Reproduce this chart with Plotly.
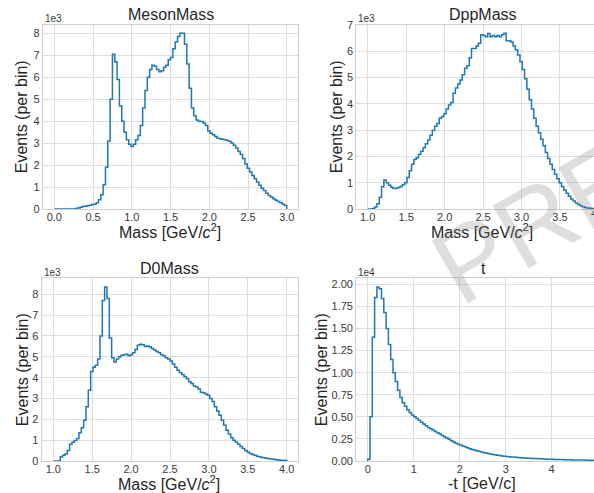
import numpy as np
import plotly.graph_objects as go

# ---------------- data (counts in units of the axis multiplier) ----------------
meson_lo, meson_hi, meson_nbins = 0.0, 3.0, 100
meson_counts_1e3 = [
    0, 0, 0, 0, 0, 0, 0, 0, 0, 0.02,
    0.05, 0.08, 0.11, 0.13, 0.15, 0.17, 0.20, 0.22, 0.28, 0.42,
    0.65, 1.1, 1.9, 3.1, 5.0, 7.05, 6.7, 5.9, 4.7, 4.0,
    3.5, 3.15, 2.95, 2.85, 2.95, 3.15, 3.35, 3.8, 4.6, 5.4,
    6.0, 6.35, 6.55, 6.5, 6.35, 6.25, 6.3, 6.45, 6.55, 6.8,
    6.9, 7.3, 7.6, 7.85, 8.0, 8.0, 7.5, 6.6, 5.5, 4.6,
    4.25, 4.05, 4.0, 3.98, 3.92, 3.8, 3.55, 3.45, 3.38, 3.3,
    3.22, 3.2, 3.18, 3.15, 3.12, 3.08, 3.0, 2.9, 2.78, 2.62,
    2.48, 2.3, 2.05, 1.85, 1.68, 1.52, 1.38, 1.23, 1.08, 0.95,
    0.84, 0.72, 0.62, 0.55, 0.47, 0.40, 0.34, 0.28, 0.22, 0.16,
]

dpp_lo, dpp_hi, dpp_nbins = 1.0, 4.0, 100
dpp_counts_1e3 = [
    0, 0, 0.02, 0.08, 0.2, 0.45, 0.85, 1.1, 1.0, 0.9,
    0.83, 0.78, 0.79, 0.82, 0.86, 0.92, 1.0, 1.2, 1.45, 1.7,
    1.88, 1.95, 2.08, 2.2, 2.33, 2.48, 2.62, 2.8, 2.98, 3.15,
    3.25, 3.45, 3.52, 3.62, 3.8, 3.95, 4.05, 4.4, 4.6, 4.75,
    4.9, 5.1, 5.35, 5.45, 5.75, 6.1, 6.1, 6.2, 6.3, 6.62,
    6.6, 6.55, 6.67, 6.55, 6.6, 6.55, 6.6, 6.55, 6.62, 6.68,
    6.4, 6.4, 6.35, 6.2, 6.05, 5.85, 5.6, 5.3, 4.95, 4.55,
    4.15, 3.8, 3.45, 3.15, 2.9, 2.65, 2.4, 2.15, 1.92, 1.7,
    1.5, 1.32, 1.15, 1.0, 0.86, 0.72, 0.6, 0.48, 0.38, 0.3,
    0.23, 0.17, 0.12, 0.09, 0.06, 0.04, 0.03, 0.02, 0.01, 0.005,
]

d0_lo, d0_hi, d0_nbins = 1.0, 4.0, 100
d0_counts_1e3 = [
    0, 0, 0, 0.2, 0.28, 0.33, 0.5, 0.8, 0.9, 0.98,
    1.08, 1.35, 1.6, 1.95, 2.6, 3.4, 4.3, 4.5, 4.6, 4.9,
    6.0, 7.7, 8.35, 7.8, 5.9, 4.95, 4.75, 4.9, 5.0, 5.08,
    5.1, 5.12, 5.05, 5.1, 5.2, 5.35, 5.55, 5.6, 5.58, 5.5,
    5.52, 5.48, 5.4, 5.33, 5.25, 5.2, 5.1, 5.05, 4.95, 4.9,
    4.8, 4.65, 4.5, 4.35, 4.25, 4.15, 4.05, 3.95, 3.8, 3.72,
    3.6, 3.55, 3.45, 3.3, 3.28, 3.22, 3.15, 3.0, 2.85, 2.6,
    2.4, 2.2, 1.95, 1.72, 1.48, 1.3, 1.12, 1.0, 0.9, 0.8,
    0.7, 0.6, 0.5, 0.43, 0.36, 0.31, 0.27, 0.23, 0.2, 0.17,
    0.15, 0.13, 0.11, 0.09, 0.08, 0.06, 0.05, 0.04, 0.03, 0.02,
]

t_lo, t_hi, t_nbins = 0.0, 5.0, 100
t_counts_1e4 = [
    0.02, 0.5, 1.4, 1.85, 1.97, 1.95, 1.84, 1.68, 1.5, 1.32,
    1.15, 1.0, 0.9, 0.8, 0.72, 0.66, 0.62, 0.58, 0.55, 0.52,
    0.5, 0.48, 0.46, 0.44, 0.42, 0.4, 0.38, 0.365, 0.35, 0.335,
    0.32, 0.305, 0.29, 0.275, 0.26, 0.245, 0.23, 0.215, 0.2, 0.19,
    0.18, 0.17, 0.16, 0.15, 0.14, 0.13, 0.125, 0.117, 0.11, 0.103,
    0.096, 0.09, 0.084, 0.079, 0.074, 0.07, 0.066, 0.062, 0.058, 0.055,
    0.052, 0.049, 0.046, 0.044, 0.042, 0.04, 0.038, 0.036, 0.034, 0.032,
    0.03, 0.029, 0.028, 0.027, 0.026, 0.025, 0.023, 0.022, 0.021, 0.02,
    0.019, 0.018, 0.017, 0.016, 0.016, 0.015, 0.014, 0.014, 0.013, 0.012,
    0.012, 0.011, 0.011, 0.010, 0.010, 0.009, 0.009, 0.008, 0.008, 0.007,
]

titles = ["MesonMass", "DppMass", "D0Mass", "t"]
mass_label = "Mass [GeV/<i>c</i><sup>2</sup>]"
t_label = "-t [GeV/c]"
ylabel = "Events (per bin)"
multipliers = ["1e3", "1e3", "1e3", "1e4"]
watermark = "PRELIMINARY"

# ---------------- style ----------------
W, H = 594, 493
FONT = "Liberation Sans, Arial, sans-serif"
LINE = "#1f77b4"
GRID = "#dddddd"
FRAME = "#d0d0d0"
TXT = "#262626"
TICK = "#3a3a3a"


def step_xy(lo, hi, n, counts):
    edges = np.linspace(lo, hi, n + 1)
    c = list(counts)
    x = [edges[0]] + list(edges[:-1]) + [edges[-1], edges[-1]]
    y = [0] + c + [c[-1], 0]
    return x, y


def px2fx(p):
    return p / W


def px2fy(p):
    return 1 - p / H


panels = [
    dict(lo=meson_lo, hi=meson_hi, n=meson_nbins, c=meson_counts_1e3,
         xd=(42.7, 298.4), yd=(209, 24.5), xr=None, xfmt=".1f", xdt=0.5,
         ydt=1, yfmt="d", xl=mass_label, ylx=21.5, full_right=None),
    dict(lo=dpp_lo, hi=dpp_hi, n=dpp_nbins, c=dpp_counts_1e3,
         xd=(356.2, 594), yd=(209, 24.5), xr=(0.85, 3.943), xfmt=".1f", xdt=0.5,
         ydt=1, yfmt="d", xl=mass_label, ylx=336.5, full_right=610.0),
    dict(lo=d0_lo, hi=d0_hi, n=d0_nbins, c=d0_counts_1e3,
         xd=(41.6, 298.4), yd=(461, 278.3), xr=None, xfmt=".1f", xdt=0.5,
         ydt=1, yfmt="d", xl=mass_label, ylx=22.5, full_right=None),
    dict(lo=t_lo, hi=t_hi, n=t_nbins, c=t_counts_1e4,
         xd=(356.2, 594), yd=(461, 278.3), xr=(-0.25, 4.92), xfmt="d", xdt=1,
         ydt=0.25, yfmt=".2f", xl=t_label, ylx=321.5, full_right=610.0),
]

fig = go.Figure()
annotations = []

for i, p in enumerate(panels):
    k = "" if i == 0 else str(i + 1)
    x, y = step_xy(p["lo"], p["hi"], p["n"], p["c"])
    fig.add_trace(go.Scatter(x=x, y=y, mode="lines", line=dict(color=LINE, width=1.5, shape="hv"),
                             xaxis="x" + k, yaxis="y" + k, showlegend=False, hoverinfo="skip"))
    span = p["hi"] - p["lo"]
    xr = p["xr"] if p["xr"] else (p["lo"] - 0.05 * span, p["hi"] + 0.05 * span)
    ymax = max(p["c"]) * 1.05
    xd = [px2fx(p["xd"][0]), min(1.0, px2fx(p["xd"][1]))]
    yd = [px2fy(p["yd"][0]), px2fy(p["yd"][1])]
    fig.layout["xaxis" + k] = dict(
        domain=xd, range=list(xr), anchor="y" + k, dtick=p["xdt"], tick0=0,
        tickformat=p["xfmt"], showgrid=True, gridcolor=GRID, gridwidth=1,
        showline=True, linecolor=FRAME, linewidth=1, mirror=True, zeroline=False,
        ticks="", ticklabelstandoff=-2,
        tickfont=dict(family=FONT, size=11, color=TICK), automargin=False,
        fixedrange=True,
    )
    fig.layout["yaxis" + k] = dict(
        domain=yd, range=[0, ymax], anchor="x" + k, dtick=p["ydt"], tick0=0,
        tickformat=p["yfmt"], showgrid=True, gridcolor=GRID, gridwidth=1,
        showline=True, linecolor=FRAME, linewidth=1, mirror=True, zeroline=False,
        ticks="", tickfont=dict(family=FONT, size=11, color=TICK), automargin=False,
        fixedrange=True,
    )
    full_right = p["xd"][1] if p["full_right"] is None else p["full_right"]
    cx = (p["xd"][0] + full_right) / 2
    top = p["yd"][1]
    bottom = p["yd"][0]
    annotations.append(dict(text=titles[i], x=px2fx(cx), y=px2fy(top - 10), xref="paper", yref="paper",
                            showarrow=False, xanchor="center", yanchor="middle",
                            font=dict(family=FONT, size=16, color=TXT)))
    annotations.append(dict(text=multipliers[i], x=px2fx(p["xd"][0]), y=px2fy(top - 5.5),
                            xref="paper", yref="paper", showarrow=False, xanchor="left",
                            yanchor="middle", font=dict(family=FONT, size=10, color=TICK)))
    annotations.append(dict(text=p["xl"], x=px2fx(cx - 1), y=px2fy(bottom + 22), xref="paper",
                            yref="paper", showarrow=False, xanchor="center", yanchor="middle",
                            font=dict(family=FONT, size=16, color=TXT)))
    annotations.append(dict(text=ylabel, x=px2fx(p["ylx"]), y=px2fy((top + bottom) / 2),
                            xref="paper", yref="paper", showarrow=False, xanchor="center",
                            yanchor="middle", textangle=-90,
                            font=dict(family=FONT, size=16, color=TXT)))
    # tick label that sits on the (cut-off) right edge of the window
    if p["full_right"] is not None:
        last_tick = p["hi"]
        if last_tick > xr[1]:
            fx = xd[0] + (last_tick - xr[0]) / (xr[1] - xr[0]) * (xd[1] - xd[0])
            label = f"{last_tick:.1f}" if p["xfmt"] == ".1f" else f"{int(last_tick)}"
            if fx * W - len(label) * 3 < W - 1:
                annotations.append(dict(text=label, x=fx, y=px2fy(bottom + 4.5),
                                        xref="paper", yref="paper", showarrow=False,
                                        xanchor="center", yanchor="middle",
                                        font=dict(family=FONT, size=11, color=TICK)))

# watermark
annotations.append(dict(text=watermark, x=px2fx(750), y=px2fy(99), xref="paper", yref="paper",
                        showarrow=False, xanchor="center", yanchor="middle", textangle=-30,
                        font=dict(family=FONT, size=105, color="rgba(128,128,128,0.26)")))

fig.update_layout(
    width=W, height=H, margin=dict(l=0, r=0, t=0, b=0),
    paper_bgcolor="white", plot_bgcolor="white",
    annotations=annotations, showlegend=False,
)

fig.write_html("out.html", include_plotlyjs=True, config={"displayModeBar": False})
